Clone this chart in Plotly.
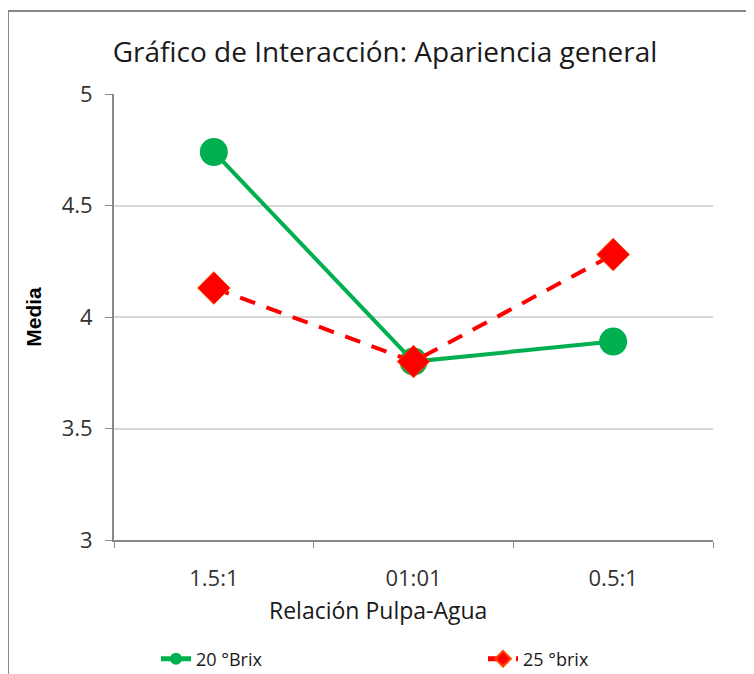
import plotly.graph_objects as go

categories = ["1.5:1", "01:01", "0.5:1"]
brix20 = [4.74, 3.80, 3.89]
brix25 = [4.13, 3.80, 4.28]
series_names = ["20 °Brix", "25 °brix"]
y_ticks = [3, 3.5, 4, 4.5, 5]

OFF = 8  # page body margin
W, H = 754 - OFF, 674 - OFF
L, T = 114 - OFF, 94 - OFF
pw, ph = 599, 446
R = W - L - pw
B = H - T - ph

font_main = "Open Sans"

def py(page_y):
    return (T + ph - (page_y - OFF)) / ph

def px(page_x):
    return (page_x - OFF - L) / pw

fig = go.Figure()
fig.add_trace(go.Scatter(
    x=categories, y=brix20, name=series_names[0], mode="lines+markers",
    line=dict(color="#00B050", width=4),
    marker=dict(symbol="circle", size=28, color="#00B050"),
    legend="legend2",
))
fig.add_trace(go.Scatter(
    x=categories, y=brix25, name=series_names[1], mode="lines+markers",
    line=dict(color="#FF0000", width=4, dash="16px,12px"),
    marker=dict(symbol="diamond", size=25, color="#FF0000",
                line=dict(color="#FF4500", width=1)),
    legend="legend3",
))

legend_common = dict(orientation="h", xanchor="left", yanchor="middle",
                     itemsizing="constant",
                     font=dict(family=font_main, size=18, color="#1a1a1a"),
                     bgcolor="rgba(0,0,0,0)")

fig.update_layout(
    width=W, height=H,
    margin=dict(l=L, r=R, t=T, b=B, autoexpand=False),
    paper_bgcolor="white", plot_bgcolor="white",
    showlegend=True,
    title=dict(text="Gráfico de Interacción: Apariencia general",
               font=dict(family=font_main, size=28, color="#1a1a1a"),
               x=(385 - OFF) / W, xanchor="center", xref="container",
               y=1 - (52 - OFF) / H, yanchor="middle", yref="container"),
    xaxis=dict(type="category", tickson="boundaries", ticks="outside",
               ticklen=6, tickcolor="#888888", showline=True,
               linecolor="#888888", linewidth=2, showgrid=False,
               range=[-0.5, 2.5], automargin=False, ticklabelstandoff=18,
               tickfont=dict(family=font_main, size=22, color="#333333")),
    yaxis=dict(range=[3, 5], tickvals=y_ticks, ticks="outside", ticklen=7,
               tickcolor="#888888", showline=True, linecolor="#888888",
               linewidth=2, showgrid=True, gridcolor="#d9d9d9", gridwidth=2,
               zeroline=False, automargin=False, ticklabelstandoff=8,
               tickfont=dict(family=font_main, size=22, color="#333333"),
               title=dict(text="<b>Media</b>", standoff=14,
                          font=dict(family="Liberation Sans", size=21, color="black"))),
    legend2=dict(x=px(156), y=py(659), **legend_common),
    legend3=dict(x=px(483), y=py(659), **legend_common),
    annotations=[dict(text="Relación Pulpa-Agua", xref="paper", yref="paper",
                      x=px(378), y=py(610),
                      xanchor="center", yanchor="middle", showarrow=False,
                      font=dict(family=font_main, size=23, color="#1a1a1a"))],
    shapes=[dict(type="rect", xref="paper", yref="paper",
                 x0=px(8), x1=px(790),
                 y0=py(720), y1=py(11),
                 line=dict(color="#888888", width=2), layer="below")],
)

fig.write_html("out.html")
